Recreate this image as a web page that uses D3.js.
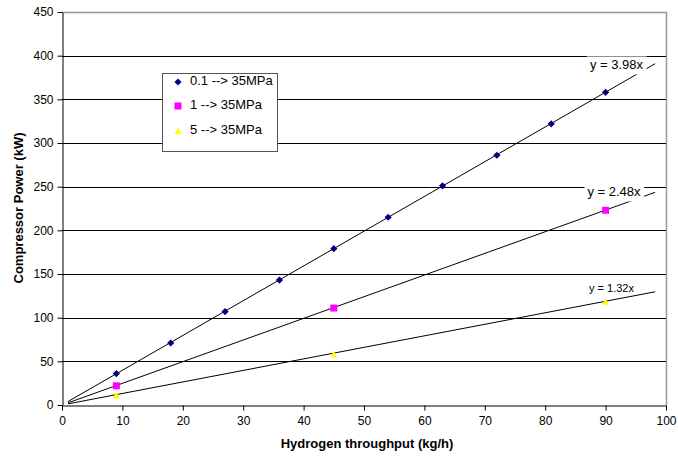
<!DOCTYPE html>
<html>
<head>
<meta charset="utf-8">
<script src="https://cdn.jsdelivr.net/npm/d3@7/dist/d3.min.js"></script>
<style>
  html, body { margin: 0; padding: 0; background: #fff; }
  svg { display: block; font-family: "Liberation Sans", Arial, sans-serif; }
</style>
</head>
<body>
<svg id="chart" width="678" height="457"></svg>
<script>
// Compressor power vs hydrogen throughput for three inlet pressures
const seriesNames = ["0.1 --> 35MPa", "1 --> 35MPa", "5 --> 35MPa"];
const seriesColors = ["#000080", "#FF00FF", "#FFFF00"];

const xLow = [9, 18, 27, 36, 45, 54, 63, 72, 81, 90];
const yLow = [36, 71, 107, 143, 179, 215, 251, 286, 322, 358];
const xMid = [9, 45, 90];
const yMid = [22, 111, 223];
const xHigh = [9, 45, 90];
const yHigh = [11, 58, 118];

// Linear fits through the origin
const slopes = [3.98, 2.48, 1.32];
const slopeLabels = ["y = 3.98x", "y = 2.48x", "y = 1.32x"];
const fitRange = [1, 98.2];

const xTicks = [0, 10, 20, 30, 40, 50, 60, 70, 80, 90, 100];
const yTicks = [0, 50, 100, 150, 200, 250, 300, 350, 400, 450];

const series = [
  { x: xLow, y: yLow },
  { x: xMid, y: yMid },
  { x: xHigh, y: yHigh }
];

// marker shapes: diamond, square, triangle (half-size r)
const markerPath = [
  r => `M0,${-r}L${r},0L0,${r}L${-r},0Z`,
  r => `M${-r},${-r}H${r}V${r}H${-r}Z`,
  r => `M0,${-r}L${r},${r * 0.8}H${-r}Z`
];
const markerR = [3.6, 3.5, 3.6];

const svg = d3.select("#chart");
const plotL = 62, plotR = 666, plotT = 12, plotB = 405;

const x = d3.scaleLinear().domain([0, 100]).range([plotL, plotR]);
const y = d3.scaleLinear().domain([0, 450]).range([plotB, plotT]);

// plot frame (top & right)
svg.append("path")
  .attr("d", `M${plotL},${plotT + 0.5}H${plotR + 0.5}V${plotB}`)
  .attr("fill", "none").attr("stroke", "#999").attr("stroke-width", 1.5);

// horizontal gridlines
svg.append("g").selectAll("line").data(yTicks.filter(d => d > 0 && d < 450)).join("line")
  .attr("x1", plotL).attr("x2", plotR)
  .attr("y1", d => Math.round(y(d)) + 0.5).attr("y2", d => Math.round(y(d)) + 0.5)
  .attr("stroke", "#000").attr("stroke-width", 1);

// axes
const xAxis = svg.append("g").attr("transform", `translate(0,${plotB + 0.5})`)
  .call(d3.axisBottom(x).tickValues(xTicks).tickSize(5).tickSizeOuter(0).tickPadding(6));
const yAxis = svg.append("g").attr("transform", `translate(${plotL + 0.5},0)`)
  .call(d3.axisLeft(y).tickValues(yTicks).tickSize(5).tickSizeOuter(0).tickPadding(4));
[xAxis, yAxis].forEach(g => {
  g.select(".domain").attr("stroke", "#000");
  g.selectAll(".tick line").attr("stroke", "#000");
  g.selectAll("text").attr("font-size", 12).attr("fill", "#000")
    .attr("font-family", "'Liberation Sans', Arial, sans-serif");
});

// trendlines
const fitLine = d3.line().x(d => x(d[0])).y(d => y(d[1]));
slopes.forEach(m => {
  svg.append("path")
    .attr("d", fitLine(fitRange.map(v => [v, m * v])))
    .attr("fill", "none").attr("stroke", "#000").attr("stroke-width", 1);
});

// markers
series.forEach((s, i) => {
  svg.append("g").selectAll("path").data(s.x.map((v, j) => [v, s.y[j]])).join("path")
    .attr("d", markerPath[i](markerR[i]))
    .attr("transform", d => `translate(${x(d[0])},${y(d[1])})`)
    .attr("fill", seriesColors[i]);
});

// trendline equation labels with white backing
const labelPos = [[616.5, 66, 13, true], [614, 193, 13, true], [611.5, 289, 11, false]];
slopeLabels.forEach((t, i) => {
  const [cx, cy, fs, backed] = labelPos[i];
  const g = svg.append("g");
  const txt = g.append("text").attr("x", cx).attr("y", cy).attr("text-anchor", "middle")
    .attr("dominant-baseline", "middle").attr("font-size", fs).attr("fill", "#000").text(t);
  if (backed) {
    const bb = txt.node().getBBox();
    g.insert("rect", "text").attr("x", bb.x - 3).attr("y", bb.y - 1)
      .attr("width", bb.width + 6).attr("height", bb.height + 3).attr("fill", "#fff");
  }
});

// legend
const lg = svg.append("g");
lg.append("rect").attr("x", 162.5).attr("y", 73.5).attr("width", 115).attr("height", 78)
  .attr("fill", "#fff").attr("stroke", "#555").attr("stroke-width", 1);
const legendY = [82, 106, 131];
seriesNames.forEach((n, i) => {
  lg.append("path")
    .attr("d", markerPath[i](markerR[i]))
    .attr("transform", `translate(178,${legendY[i]})`)
    .attr("fill", seriesColors[i]);
  lg.append("text").attr("x", 190).attr("y", legendY[i]).attr("dominant-baseline", "middle")
    .attr("font-size", 13).attr("fill", "#000").text(n);
});

// axis titles
svg.append("text").attr("x", 367).attr("y", 448).attr("text-anchor", "middle")
  .attr("font-size", 13).attr("font-weight", "bold").text("Hydrogen throughput (kg/h)");
svg.append("text").attr("transform", "translate(23,208) rotate(-90)").attr("text-anchor", "middle")
  .attr("font-size", 13).attr("font-weight", "bold").text("Compressor Power (kW)");
</script>
</body>
</html>
